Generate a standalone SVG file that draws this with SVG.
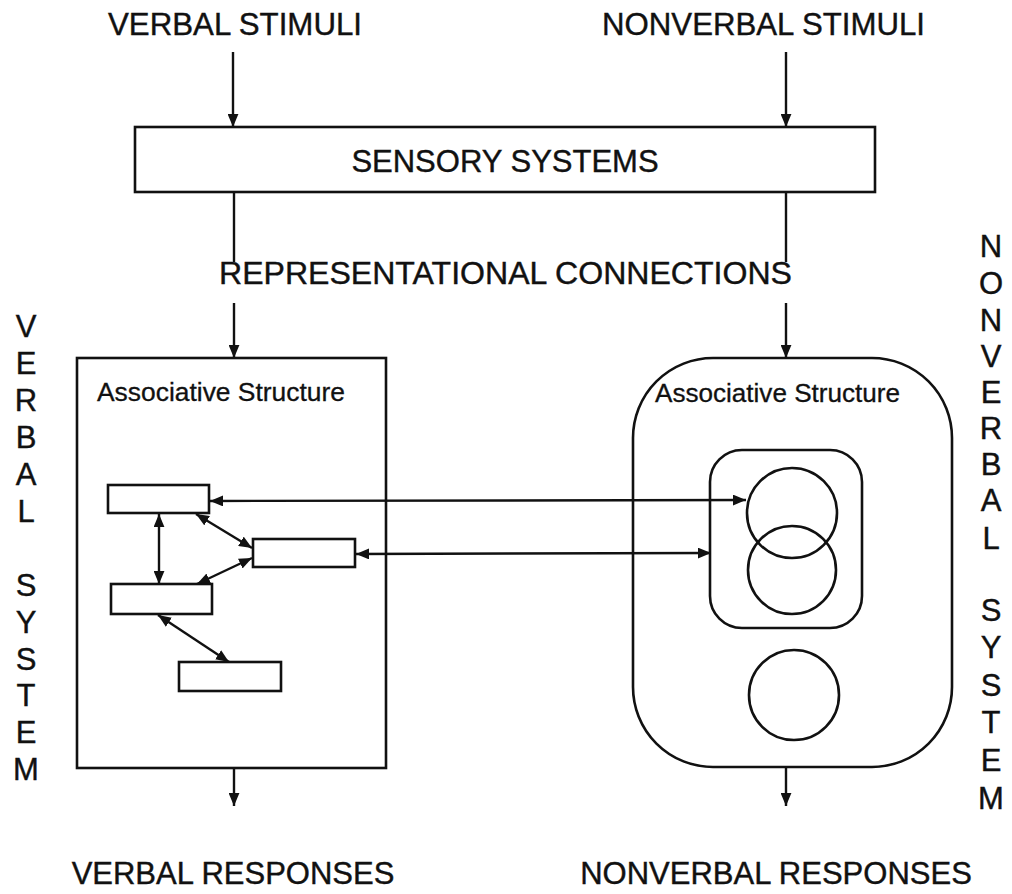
<svg xmlns="http://www.w3.org/2000/svg" width="1012" height="894" viewBox="0 0 1012 894">
<style>
.t{font-family:"Liberation Sans",Arial,sans-serif;font-size:31px;fill:#111;stroke:#111;stroke-width:0.4;}
.s{font-family:"Liberation Sans",Arial,sans-serif;font-size:25px;fill:#111;stroke:#111;stroke-width:0.3;}
.v{font-family:"Liberation Sans",Arial,sans-serif;font-size:31px;fill:#111;stroke:#111;stroke-width:0.4;text-anchor:middle;}
.b{fill:none;stroke:#111;stroke-width:2.6;}
.c{fill:none;stroke:#111;stroke-width:2.4;}
</style>
<defs>
<marker id="ah" viewBox="0 0 12 10" refX="12" refY="5" markerWidth="13" markerHeight="11" markerUnits="userSpaceOnUse" orient="auto-start-reverse">
<path d="M0,0 L12,5 L0,10 z" fill="#111"/>
</marker>
</defs>
<rect width="1012" height="894" fill="#fff"/>

<g id="labels">
<text class="t" x="108" y="35" textLength="254" lengthAdjust="spacingAndGlyphs">VERBAL STIMULI</text>
<text class="t" x="602" y="35" textLength="323" lengthAdjust="spacingAndGlyphs">NONVERBAL STIMULI</text>
<text class="t" x="219" y="284" textLength="573" lengthAdjust="spacingAndGlyphs">REPRESENTATIONAL CONNECTIONS</text>
<text class="t" x="233" y="884" text-anchor="middle">VERBAL RESPONSES</text>
<text class="t" x="776" y="884" text-anchor="middle">NONVERBAL RESPONSES</text>
</g>

<g id="verbal-system-label">
<text class="v" x="26" y="337">V</text>
<text class="v" x="26" y="374">E</text>
<text class="v" x="26" y="411">R</text>
<text class="v" x="26" y="448">B</text>
<text class="v" x="26" y="485">A</text>
<text class="v" x="26" y="522">L</text>
<text class="v" x="26" y="596">S</text>
<text class="v" x="26" y="633">Y</text>
<text class="v" x="26" y="670">S</text>
<text class="v" x="26" y="706">T</text>
<text class="v" x="26" y="743">E</text>
<text class="v" x="26" y="780">M</text>
</g>

<g id="nonverbal-system-label">
<text class="v" x="991" y="257">N</text>
<text class="v" x="991" y="294">O</text>
<text class="v" x="991" y="331">N</text>
<text class="v" x="991" y="367">V</text>
<text class="v" x="991" y="403">E</text>
<text class="v" x="991" y="439">R</text>
<text class="v" x="991" y="475">B</text>
<text class="v" x="991" y="511">A</text>
<text class="v" x="991" y="549">L</text>
<text class="v" x="991" y="621">S</text>
<text class="v" x="991" y="658">Y</text>
<text class="v" x="991" y="696">S</text>
<text class="v" x="991" y="733">T</text>
<text class="v" x="991" y="771">E</text>
<text class="v" x="991" y="809">M</text>
</g>

<g id="sensory-systems">
<rect class="b" x="135" y="127" width="740" height="65"/>
<text class="t" x="505" y="172" text-anchor="middle">SENSORY SYSTEMS</text>
</g>

<g id="verbal-structure">
<rect class="b" x="77" y="358" width="309" height="410"/>
<text class="s" x="97" y="401" textLength="248" lengthAdjust="spacingAndGlyphs">Associative Structure</text>
</g>

<g id="logogen-1"><rect class="b" x="108" y="485" width="101" height="28"/></g>
<g id="logogen-2"><rect class="b" x="253" y="539" width="102" height="28"/></g>
<g id="logogen-3"><rect class="b" x="111" y="584" width="101" height="30"/></g>
<g id="logogen-4"><rect class="b" x="179" y="662" width="102" height="29"/></g>

<g id="nonverbal-structure">
<rect class="b" x="633" y="358" width="319" height="409" rx="80" ry="80"/>
<text class="s" x="655" y="402" textLength="245" lengthAdjust="spacingAndGlyphs">Associative Structure</text>
</g>

<g id="imagen-group">
<rect class="b" x="710" y="450" width="152" height="178" rx="32" ry="32"/>
</g>
<g id="imagen-1"><circle class="b" cx="792" cy="513" r="45"/></g>
<g id="imagen-2"><circle class="b" cx="792" cy="570" r="44"/></g>
<g id="imagen-3"><circle class="b" cx="794" cy="695" r="45"/></g>

<g id="connectors">
<line class="c" x1="233" y1="52" x2="233" y2="127" marker-end="url(#ah)"/>
<line class="c" x1="786" y1="52" x2="786" y2="127" marker-end="url(#ah)"/>
<line class="c" x1="234" y1="192" x2="234" y2="262"/>
<line class="c" x1="786" y1="192" x2="786" y2="262"/>
<line class="c" x1="234" y1="303" x2="234" y2="358" marker-end="url(#ah)"/>
<line class="c" x1="786" y1="303" x2="786" y2="358" marker-end="url(#ah)"/>
<line class="c" x1="234" y1="768" x2="234" y2="806" marker-end="url(#ah)"/>
<line class="c" x1="786" y1="767" x2="786" y2="806" marker-end="url(#ah)"/>
<line class="c" x1="210" y1="501" x2="746" y2="500" marker-start="url(#ah)" marker-end="url(#ah)"/>
<line class="c" x1="356" y1="554" x2="711" y2="553" marker-start="url(#ah)" marker-end="url(#ah)"/>
<line class="c" x1="159" y1="514" x2="159" y2="584" marker-start="url(#ah)" marker-end="url(#ah)"/>
<line class="c" x1="196" y1="514" x2="252" y2="548" marker-start="url(#ah)" marker-end="url(#ah)"/>
<line class="c" x1="252" y1="558" x2="197" y2="584" marker-start="url(#ah)" marker-end="url(#ah)"/>
<line class="c" x1="158" y1="615" x2="229" y2="662" marker-start="url(#ah)" marker-end="url(#ah)"/>
</g>
</svg>
